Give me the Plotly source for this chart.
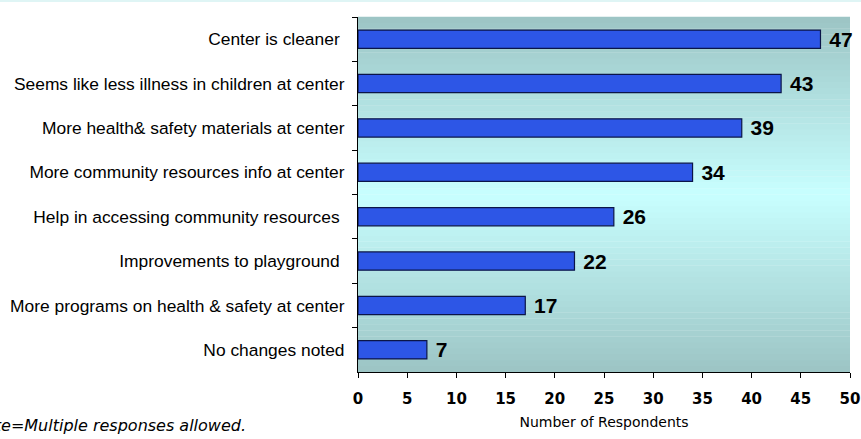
import plotly.graph_objects as go

categories = [
    'Center is cleaner ',
    'Seems like less illness in children at center',
    'More health& safety materials at center',
    'More community resources info at center',
    'Help in accessing community resources ',
    'Improvements to playground ',
    'More programs on health & safety at center',
    'No changes noted',
]
respondents = [47, 43, 39, 34, 26, 22, 17, 7]

x_ticks = [0, 5, 10, 15, 20, 25, 30, 35, 40, 45, 50]

# vertical gradient for the plot background: teal at the edges, pale cyan in the middle
TOP = (156, 196, 196)
MID = (200, 255, 255)
N_STRIPS = 60


def mix(a, b, t):
    return 'rgb(%d,%d,%d)' % tuple(round(a[i] + (b[i] - a[i]) * t) for i in range(3))


shapes = []
for i in range(N_STRIPS):
    y0 = i / N_STRIPS
    y1 = (i + 1) / N_STRIPS
    t = 1 - abs((y0 + y1) / 2 - 0.5) * 2
    shapes.append(dict(type='rect', xref='paper', yref='paper', x0=0, x1=1, y0=y0, y1=y1 + 0.001,
                       fillcolor=mix(TOP, MID, t), line_width=0, layer='below'))

# thin pale strip along the very top of the page
shapes.append(dict(type='rect', xref='paper', yref='paper', x0=-1, x1=1.1, y0=1.042, y1=1.06,
                   fillcolor='#dff5f5', line_width=0, layer='below'))

fig = go.Figure(go.Bar(
    y=categories, x=respondents, orientation='h',
    marker=dict(color='#2d56e6', line=dict(color='#0b1548', width=1.2)),
    text=[str(v) for v in respondents], texttemplate=' %{text}',
    textposition='outside', constraintext='none',
    textfont=dict(family='Arial, Liberation Sans', size=21, color='black', weight='bold'),
    cliponaxis=False,
))

fig.update_layout(
    width=861, height=439,
    margin=dict(l=358, r=11, t=17, b=67),
    paper_bgcolor='white', plot_bgcolor='rgba(0,0,0,0)',
    bargap=0.59, showlegend=False, shapes=shapes,
    font=dict(family='Arial, Liberation Sans', color='black'),
    xaxis=dict(range=[0, 50], tickvals=x_ticks, ticks='outside', ticklen=5, tickcolor='black',
               showline=True, linecolor='black', linewidth=1, showgrid=False, zeroline=False,
               automargin=False, ticklabelstandoff=8,
               tickfont=dict(family='Verdana, DejaVu Sans', size=15, weight='bold'),
               title=dict(text='Number of Respondents', standoff=10,
                          font=dict(family='Verdana, DejaVu Sans', size=14))),
    yaxis=dict(autorange='reversed', ticks='outside', ticklen=5, tickcolor='black', tickson='boundaries',
               showline=True, linecolor='black', linewidth=1, showgrid=False,
               automargin=False, ticklabelstandoff=9,
               tickfont=dict(family='Arial, Liberation Sans', size=17.4)),
    annotations=[dict(text='<i>Note=Multiple responses allowed.</i>', xref='paper', yref='paper',
                      x=-0.2236, y=-0.15, xanchor='right', yanchor='middle', showarrow=False,
                      font=dict(family='Verdana, DejaVu Sans', size=16, color='black'))],
)

fig.write_html('out.html', config={'displayModeBar': False},
               post_script="document.body.style.margin='0px';")
